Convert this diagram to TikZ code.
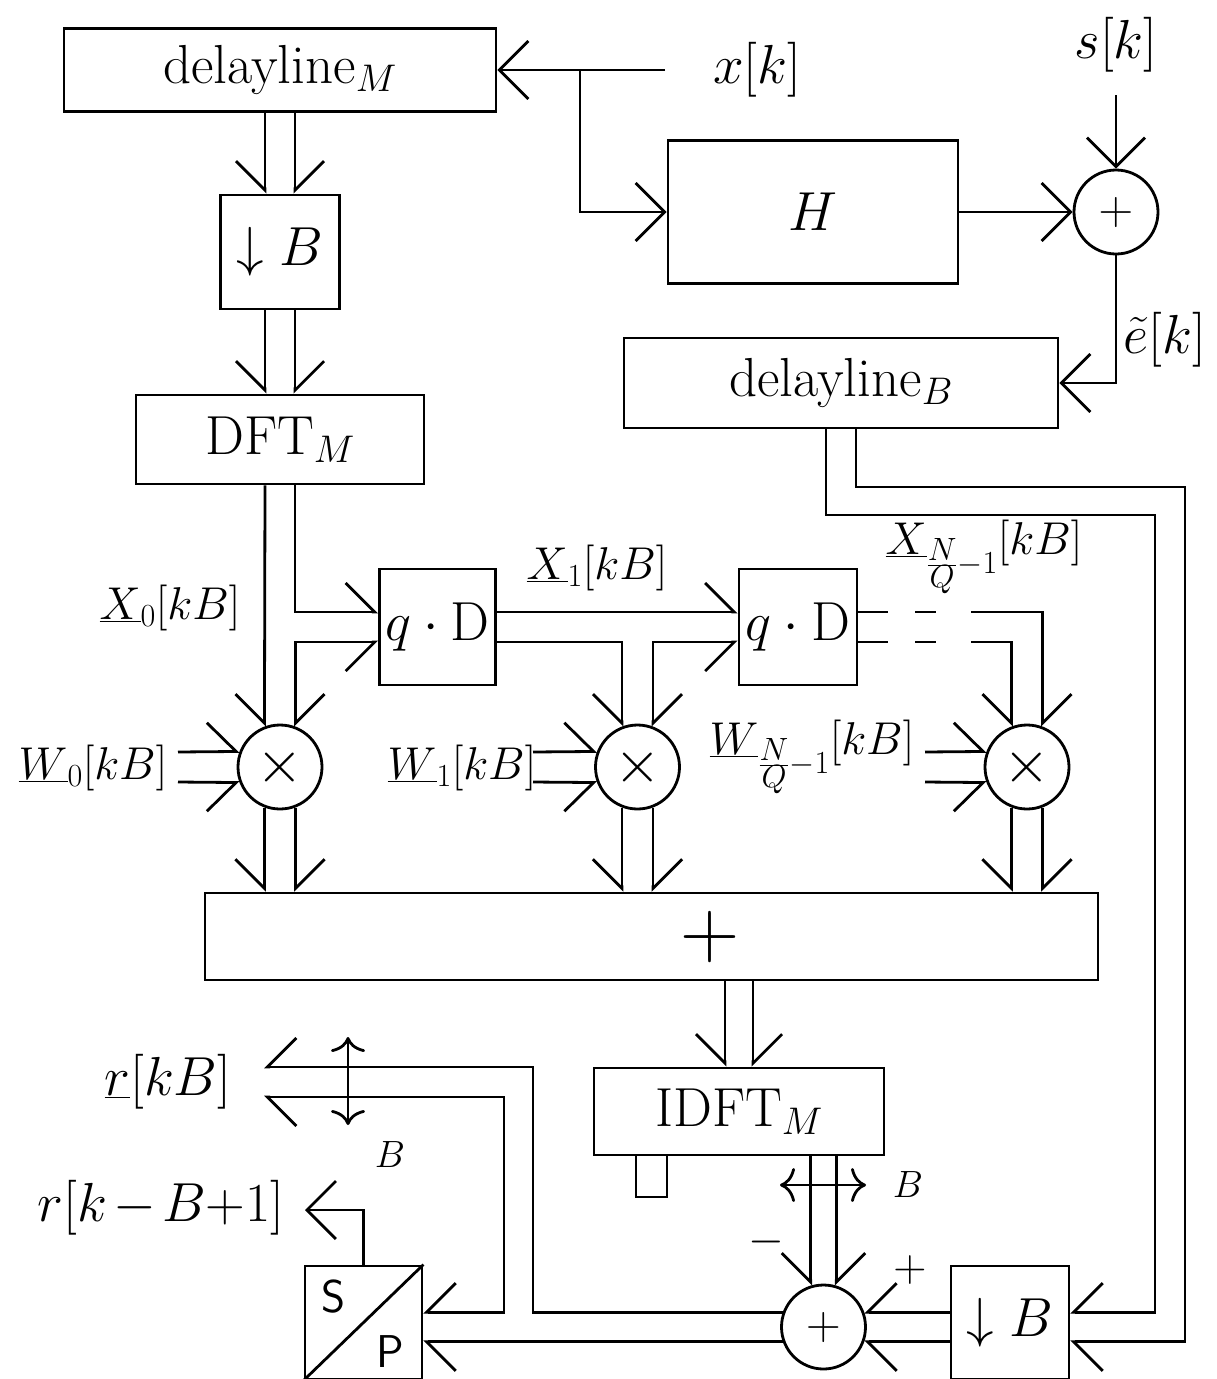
\RequirePackage{fix-cm}
\documentclass[tikz,border=0pt]{standalone}
\usetikzlibrary{arrows.meta,calc}
\begin{document}
\begin{tikzpicture}[x=1pt,y=-1pt,
  line width=2.8pt,
  every node/.style={font=\fontsize{55}{64}\selectfont, inner sep=0pt},
  blk/.style={draw, rectangle, line width=2.8pt},
  rnd/.style={draw, circle, minimum size=84pt, line width=2.8pt},
  lbl/.style={font=\fontsize{46}{54}\selectfont},
  sml/.style={font=\fontsize{38}{46}\selectfont},
  FV/.tip={Straight Barb[length=29pt,width=58pt]},
  HL/.tip={Straight Barb[length=29pt,width=58pt,harpoon]},
  HR/.tip={Straight Barb[length=29pt,width=58pt,harpoon,swap]},
  DB/.tip={To[length=15pt,width=34pt]},
  dashy/.style={dash pattern=on 30pt off 27pt on 21pt off 35pt on 2000pt}
]
\useasboundingbox (0,0) rectangle (1217,1379);
\clip (0,0) rectangle (1217,1379);

% ---------- top ----------
\node[blk, minimum width=432pt, minimum height=83pt] (dlM) at (280,70) {delayline$_M$};
\node (xk) at (757,70) {$x[k]$};
\coordinate (xin) at (665,70);
\coordinate (br) at (580,70);
\node[blk, minimum width=290pt, minimum height=143pt] (H) at (813,212) {$H$};
\node[rnd] (s1) at (1116,212) {\fontsize{48}{56}\selectfont$+$};
\node (sk) at (1116,45) {$s[k]$};
\coordinate (skin) at (1116,95);
\node (ek) at (1165,340) {$\tilde{e}[k]$};
\node[blk, minimum width=434pt, minimum height=90pt] (dlB) at (841,383) {delayline$_B$};

\draw[-FV] (xin) -- (dlM.east);
\draw[-FV] (br) |- (H.west);
\draw[-FV] (H.east) -- (s1.west);
\draw[-FV] (skin) -- (s1.north);
\draw[-FV] (s1.south) |- (dlB.east);

% ---------- left column ----------
\node[blk, minimum width=119pt, minimum height=114pt] (dsA) at (280,252) {$\downarrow B$};
\node[blk, minimum width=288pt, minimum height=89pt] (dft) at (280,439.5) {DFT$_M$};
\draw[-HR] ([xshift=-15pt]dlM.south) -- ([xshift=-15pt]dsA.north);
\draw[-HL] ([xshift=15pt]dlM.south) -- ([xshift=15pt]dsA.north);
\draw[-HR] ([xshift=-15pt]dsA.south) -- ([xshift=-15pt]dft.north);
\draw[-HL] ([xshift=15pt]dsA.south) -- ([xshift=15pt]dft.north);

% ---------- delay / multiply stages ----------
\node[blk, minimum width=116pt, minimum height=116pt] (qA) at (437.5,627) {$q\cdot\mathrm{D}$};
\node[blk, minimum width=118pt, minimum height=116pt] (qB) at (798,627) {$q\cdot\mathrm{D}$};
\node[rnd] (c1) at (280,767) {\fontsize{60}{70}\selectfont$\times$};
\node[rnd] (c2) at (637.5,767) {\fontsize{60}{70}\selectfont$\times$};
\node[rnd] (c3) at (1027,767) {\fontsize{60}{70}\selectfont$\times$};

\node[lbl] (X0) at (170,608) {$\underline{X}_0[kB]$};
\node[lbl] (X1) at (597,568) {$\underline{X}_1[kB]$};
\node[lbl] (XN) at (984,557) {$\underline{X}_{\frac{\scriptstyle N}{\scriptstyle Q}-1}[kB]$};
\node[lbl] (W0) at (93,768) {$\underline{W}_0[kB]$};
\node[lbl] (W1) at (462,768) {$\underline{W}_1[kB]$};
\node[lbl] (WN) at (812,757) {$\underline{W}_{\frac{\scriptstyle N}{\scriptstyle Q}-1}[kB]$};

\draw[-HR] ([xshift=-15pt]dft.south) -- (c1.111);
\draw[-HL] ([xshift=15pt]dft.south) |- ([yshift=15pt]qA.west);
\draw[HR-HL] ([yshift=-15pt]qA.west) -| (c1.69);

\draw[-HL] ([yshift=15pt]qA.east) -- ([yshift=15pt]qB.west);
\draw[-HR] ([yshift=-15pt]qA.east) -| (c2.111);
\draw[HR-HL] ([yshift=-15pt]qB.west) -| (c2.69);

\draw[-HL, dashy] ([yshift=15pt]qB.east) -| (c3.69);
\draw[-HR, dashy] ([yshift=-15pt]qB.east) -| (c3.111);

\coordinate (w0a) at (178,752);  \coordinate (w0b) at (178,782);
\coordinate (w1a) at (533,752);  \coordinate (w1b) at (533,782);
\coordinate (wNa) at (925,752);  \coordinate (wNb) at (925,782);
\draw[-HL] (w0a) -- (c1.159);  \draw[-HR] (w0b) -- (c1.201);
\draw[-HL] (w1a) -- (c2.159);  \draw[-HR] (w1b) -- (c2.201);
\draw[-HL] (wNa) -- (c3.159);  \draw[-HR] (wNb) -- (c3.201);

% ---------- adder bar ----------
\node[blk, minimum width=893pt, minimum height=87pt] (plus) at (651.5,936.5) {};
\node[font=\fontsize{82}{90}\selectfont] (plusl) at (710,937) {$+$};
\foreach \c in {c1,c2,c3}{
  \draw[-HR] (\c.249) -- (\c.249 |- plus.north);
  \draw[-HL] (\c.291) -- (\c.291 |- plus.north);
}

\node[blk, minimum width=290pt, minimum height=87pt] (idft) at (739,1111.5) {IDFT$_M$};
\node[blk, minimum width=31pt, minimum height=42pt] (stub) at (651.5,1176) {};
\coordinate (i1) at ([xshift=-14pt]idft.north);
\coordinate (i2) at ([xshift=14pt]idft.north);
\draw[-HR] (i1 |- plus.south) -- (i1);
\draw[-HL] (i2 |- plus.south) -- (i2);

% ---------- error path ----------
\node[rnd] (c5) at (823.5,1327) {\fontsize{48}{56}\selectfont$+$};
\node[blk, minimum width=118pt, minimum height=113pt] (dsB) at (1010,1322.5) {$\downarrow B$};
\node[blk, minimum width=117pt, minimum height=113pt] (sp) at (363.5,1322.5) {};
\draw (sp.south west) -- (sp.north east);
\node[font=\fontsize{46}{52}\selectfont\sffamily] (Slbl) at (334,1297) {S};
\node[font=\fontsize{46}{52}\selectfont\sffamily] (Plbl) at (390,1352) {P};

\draw[-HR] (c5.107 |- idft.south) -- (c5.107);
\draw[-HL] (c5.73 |- idft.south) -- (c5.73);
\coordinate (da1) at (780,1185); \coordinate (da2) at (866,1185);
\draw[DB-DB] (da1) -- (da2);
\node[sml] (Bh) at (908,1185) {$B$};
\node[lbl] (mn) at (766,1242) {$-$};
\node[lbl] (pl) at (910,1270) {$+$};

\draw[-HR] (c5.20 -| dsB.west) -- (c5.20);
\draw[-HL] (c5.340 -| dsB.west) -- (c5.340);

\coordinate (e1) at ([xshift=-15pt]dlB.south);
\coordinate (e2) at ([xshift=15pt]dlB.south);
\draw[-HR] (e1) |- (1155,515) |- (c5.20 -| dsB.east);
\draw[-HL] (e2) |- (1185,487) |- (c5.340 -| dsB.east);

% ---------- outputs ----------
\node (rk) at (168,1082) {$\underline{r}[kB]$};
\coordinate (rk1) at (264,1067);
\coordinate (rk2) at (264,1097);
\draw[-HL] (c5.200) -- (c5.200 -| sp.east);
\draw[-HR] (c5.160) -| (533,1067) -- (rk1);
\draw[HL-HR] (rk2) -| (504,1200) |- (c5.160 -| sp.east);
\coordinate (vb1) at (348,1037); \coordinate (vb2) at (348,1125);
\draw[DB-DB] (vb1) -- (vb2);
\node[sml] (Bv) at (390,1155) {$B$};

\node (rkb) at (161,1208) {$r[k\mskip2mu{-}\mskip2mu B{+}1]$};
\coordinate (rkbin) at (305,1210);
\draw[-FV] (sp.north) |- (rkbin);
\end{tikzpicture}
\end{document}
